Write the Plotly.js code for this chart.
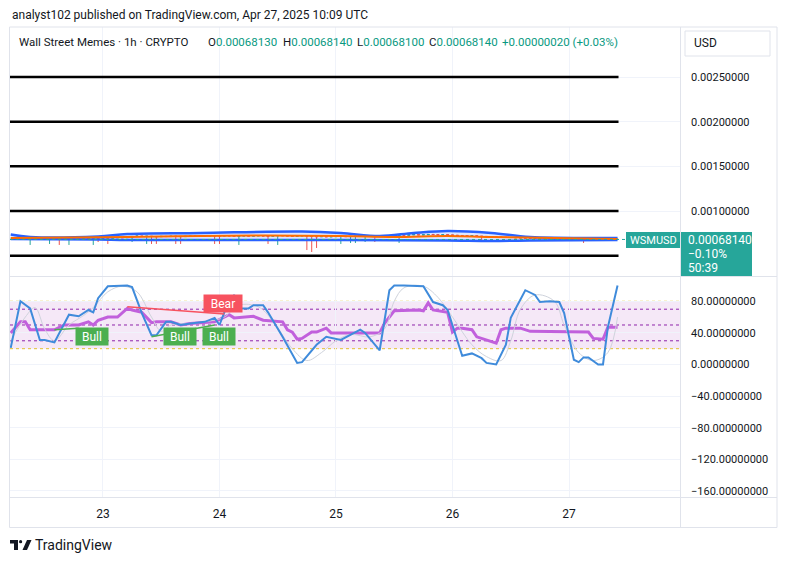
<!DOCTYPE html>
<html><head><meta charset="utf-8">
<script src="https://cdn.plot.ly/plotly-3.0.1.min.js"></script>
<style>html,body{margin:0;padding:0;background:#fff}#chart{width:785px;height:562px}</style>
</head><body><div id="chart"></div>
<script>
// ---------- DATA ----------
// hourly candles, prices in units of 1e-8 USD, first candle at 2025-04-22 06:00 (hour 6)
const firstCandleHour = 6;
const firstOpen = 69500;
const closes = [
  69600,69700,69500,69600,69800,69400,69500,69600,69700,69500,69400,69600,69500,69700,69600,69500,69700,69600,
  69800,69700,70000,70200,70100,70300,71500,72000,71600,71800,71500,71200,71600,71400,71800,71600,71300,71700,71900,71800,72100,72000,72300,72200,
  72000,72400,72100,71800,72000,72300,71900,72100,72400,72000,71800,72200,72500,72300,72000,71700,72100,72300,72000,71500,71200,71400,71100,71300,
  71400,71700,71300,71600,71800,71500,71700,71900,71600,71800,72100,72400,72800,73100,72900,73300,73600,73200,73400,73800,73600,73300,73500,73200,
  72900,72600,72400,72100,72300,71800,71600,71300,71100,70800,70600,70400,70300,70000,69800,69600,69400,69300,69100,69000,68800,68700,68500,68400,
  68300,68200,68100,68000,68100,68000,67900,67800,67900,68130,68140
];
const wickHours = [9,13,15,17,22,23,25,30,33,34,35,39,40,47,48,52,58,60,66,67,68,73,75,76,78,80,85,102,123];
const wickLows  = [62000,63100,62000,62000,62000,65300,63100,65300,63100,63100,63100,63100,63100,63100,63100,62000,63100,62000,56300,54100,58600,63100,64200,64200,65300,65300,64200,65300,64200];

const bandUpperHours = [5,9,23,29,44,65,73,81,88,95,104,112,129,130];
const bandUpper      = [73700,70900,71500,74250,75400,77050,75400,72000,75400,77600,75400,70900,69800,69700];
const bandLowerHours = [5,23,29,65,73,95,104,112,130];
const bandLower      = [68650,68100,67540,67540,67540,67000,66400,67000,67540];
const maHours  = [5,29,55,73,84,95,104,130];
const maValues = [69800,70900,72600,72000,70900,72000,70900,68650];

const levels = [0.0005,0.0010,0.0015,0.0020,0.0025];
const priceTicks = [0.0010,0.0015,0.0020,0.0025];
const lastPrice = 0.0006814;

// oscillator pane (hours since 2025-04-22 00:00)
const kHours  = [5,7,9,11,12,14,17,19,21,22,23,25,29,30,32,34,35,37,38,40,42,45,47,48,49,51,52,54,55,57,58,61,64,65,68,70,73,77,78,81,83,84,86,90,92,94,95,98,100,102,103,105,107,108,111,113,114,116,118,119,121,122,123,124,126,127,128,130];
const kValues = [21,80,71,31,31,28,63,61,69,66,84,99,100,98,65,37,37,54,54,50,52,54,59,50,66,88,71,71,75,75,66,35,2,3,25,35,31,44,40,18,94,100,100,99,79,75,69,11,14,8,2,0,25,59,94,88,79,80,79,65,6,3,9,9,0,0,47,100];
const dHours  = [5,8,10,12,14,17,20,22,25,28,31,34,36,38,42,46,49,52,56,59,63,66,69,72,75,79,82,84,86,90,93,96,100,103,106,108,110,113,117,119,122,125,128,130];
const dValues = [30,60,72,45,30,50,62,72,92,99,92,60,42,50,52,55,60,75,73,55,20,5,15,30,38,35,45,80,97,99,85,60,25,10,5,30,70,88,80,50,15,5,15,60];
const rHours  = [5,7,8,9,14,16,19,21,22,23,25,27,29,30,32,34,35,38,40,42,47,49,50,51,54,55,57,61,62,63,64,65,67,68,70,71,81,82,84,89,90,91,92,93,95,96,97,98,100,101,102,103,105,106,107,110,112,124,125,127,128,130];
const rValues = [40,54,54,44,44,50,50,54,50,56,60,60,71,69,66,53,54,54,50,52,54,60,63,59,60,61,56,54,44,41,32,33,41,41,46,40,40,52,68,69,68,78,69,68,66,41,46,46,44,35,33,31,27,44,46,46,42,41,33,32,47,47];
const bearHours = [29,49], bearValues = [73,64];
const bull1Hours = [14,19], bull1Values = [44,46];
const bull2Hours = [34,47], bull2Values = [35,50];
const labelBear = {h:48.7, v:76.6, text:'Bear'};
const labelsBull = [{h:21.8, v:35.5, text:'Bull'},{h:39.9, v:35.5, text:'Bull'},{h:47.9, v:35.5, text:'Bull'}];
const oscTicks = [80,40,0,-40,-80,-120,-160];
const dayTicks = ['2025-04-23','2025-04-24','2025-04-25','2025-04-26','2025-04-27'];
const dayLabels = ['23','24','25','26','27'];

// ---------- BUILD ----------
const SC = 1e-8;
function hd(h){ const d=new Date(Date.UTC(2025,3,22,0,0,0)+h*3600e3); return d.toISOString().slice(0,19).replace('T',' '); }
const cx=[],co=[],ch=[],cl=[],cc=[];
closes.forEach((c,i)=>{
  const h=firstCandleHour+i; const o=i===0?firstOpen:closes[i-1];
  cx.push(hd(h)); co.push(o*SC); cc.push(c*SC); ch.push(Math.max(o,c)*SC);
  const wi=wickHours.indexOf(h); cl.push((wi>=0?wickLows[wi]:Math.min(o,c))*SC);
});
const xRange=[hd(4.85), hd(143.07)];
const teal='#26a69a', red='#ef5350';
const traces=[
  {type:'scatter',mode:'lines',x:bandLowerHours.map(hd),y:bandLower.map(v=>v*SC),line:{color:'#2962ff',width:2.5,shape:'spline'},xaxis:'x',yaxis:'y',hoverinfo:'skip'},
  {type:'scatter',mode:'lines',x:bandUpperHours.map(hd),y:bandUpper.map(v=>v*SC),line:{color:'#2962ff',width:2.5,shape:'spline'},fill:'tonexty',fillcolor:'rgba(41,98,255,0.15)',xaxis:'x',yaxis:'y',hoverinfo:'skip'},
  {type:'scatter',mode:'lines',x:maHours.map(hd),y:maValues.map(v=>v*SC),line:{color:'#ff6d00',width:2,shape:'spline'},xaxis:'x',yaxis:'y',hoverinfo:'skip'},
  {type:'candlestick',x:cx,open:co,high:ch,low:cl,close:cc,xaxis:'x',yaxis:'y',whiskerwidth:0,
    increasing:{line:{color:teal,width:1},fillcolor:teal},decreasing:{line:{color:red,width:1},fillcolor:red}},
  {type:'scatter',mode:'lines',x:rHours.map(hd),y:rValues,line:{color:'#c160dc',width:3},xaxis:'x',yaxis:'y2',hoverinfo:'skip'},
  {type:'scatter',mode:'lines',x:dHours.map(hd),y:dValues,line:{color:'#cfd3dc',width:1,shape:'spline'},xaxis:'x',yaxis:'y2',hoverinfo:'skip'},
  {type:'scatter',mode:'lines',x:kHours.map(hd),y:kValues,line:{color:'#3f8bdb',width:2},xaxis:'x',yaxis:'y2',hoverinfo:'skip'},
  {type:'scatter',mode:'lines',x:bearHours.map(hd),y:bearValues,line:{color:'#f7525f',width:1.5},xaxis:'x',yaxis:'y2',hoverinfo:'skip'},
  {type:'scatter',mode:'lines',x:bull1Hours.map(hd),y:bull1Values,line:{color:'#4caf50',width:1.5},xaxis:'x',yaxis:'y2',hoverinfo:'skip'},
  {type:'scatter',mode:'lines',x:bull2Hours.map(hd),y:bull2Values,line:{color:'#4caf50',width:1.5},xaxis:'x',yaxis:'y2',hoverinfo:'skip'}
];
const PX=x=>(x-10)/671, PY=y=>(497-y)/470;
const border='#e0e3eb';
const shapes=[];
levels.forEach(l=>shapes.push({type:'line',xref:'x',yref:'y',x0:xRange[0],x1:hd(130.2),y0:l,y1:l,line:{color:'#000',width:2.5},layer:'between'}));
shapes.push({type:'line',xref:'paper',yref:'y',x0:0,x1:1,y0:lastPrice,y1:lastPrice,line:{color:teal,width:1,dash:'dot'}});
shapes.push({type:'rect',xref:'paper',yref:'y2',x0:0,x1:1,y0:20,y1:80,fillcolor:'rgba(186,104,200,0.15)',line:{width:0},layer:'between'});
[[80,'#e0c030'],[20,'#e0c030'],[70,'#8e24aa'],[50,'#8e24aa'],[30,'#8e24aa']].forEach(([v,c])=>shapes.push({type:'line',xref:'paper',yref:'y2',x0:0,x1:1,y0:v,y1:v,line:{color:c,width:1,dash:'dot'},layer:'between'}));
// frame
shapes.push({type:'rect',xref:'paper',yref:'paper',x0:PX(9.5),x1:PX(777),y0:PY(27),y1:PY(527.5),line:{color:border,width:1}});
shapes.push({type:'line',xref:'paper',yref:'paper',x0:PX(9.5),x1:PX(777),y0:PY(276.5),y1:PY(276.5),line:{color:border,width:1}});
shapes.push({type:'line',xref:'paper',yref:'paper',x0:PX(9.5),x1:PX(777),y0:PY(497.5),y1:PY(497.5),line:{color:border,width:1}});
shapes.push({type:'line',xref:'paper',yref:'paper',x0:PX(680.5),x1:PX(680.5),y0:PY(27),y1:PY(527.5),line:{color:border,width:1}});
// USD box
shapes.push({type:'rect',xref:'paper',yref:'paper',x0:PX(685),x1:PX(770),y0:PY(31),y1:PY(56),line:{color:border,width:1},fillcolor:'#fff'});
// price tags
shapes.push({type:'rect',xref:'paper',yref:'paper',x0:PX(626),x1:PX(680),y0:PY(232),y1:PY(248),line:{width:0},fillcolor:teal,layer:'above'});
shapes.push({type:'rect',xref:'paper',yref:'paper',x0:PX(681),x1:PX(752),y0:PY(232),y1:PY(276),line:{width:0},fillcolor:teal,layer:'above'});
// TradingView logo
const lp=(pts)=>'M'+pts.map(p=>PX(p[0])+','+PY(p[1])).join(' L')+' Z';
shapes.push({type:'path',xref:'paper',yref:'paper',path:lp([[10,540],[18,540],[18,550],[14,550],[14,543.5],[10,543.5]]),fillcolor:'#131722',line:{width:0}});
shapes.push({type:'circle',xref:'paper',yref:'paper',x0:PX(19),x1:PX(22.2),y0:PY(540),y1:PY(543.3),fillcolor:'#131722',line:{width:0}});
shapes.push({type:'path',xref:'paper',yref:'paper',path:lp([[27,540],[31.5,540],[27,550],[22.5,550]]),fillcolor:'#131722',line:{width:0}});

const F='Roboto, "Noto Sans", sans-serif';
const ann=[];
const txt=(x,y,t,size,color,anchor)=>ann.push({xref:'paper',yref:'paper',x:PX(x),y:PY(y),text:t,showarrow:false,xanchor:anchor||'left',yanchor:'middle',font:{family:F,size:size,color:color||'#131722'}});
txt(10,15,'analyst102 published on TradingView.com, Apr 27, 2025 10:09 UTC',12);
const G='#089981';
txt(17,42,'Wall Street Memes · 1h · CRYPTO',11.5);
txt(206,42,'O<span style="color:'+G+'">0.00068130</span>',11.5);
txt(281,42,'H<span style="color:'+G+'">0.00068140</span>',11.5);
txt(355,42,'L<span style="color:'+G+'">0.00068100</span>',11.5);
txt(427,42,'C<span style="color:'+G+'">0.00068140</span>',11.5);
txt(500,42,'+0.00000020 (+0.03%)',11.5,G);
txt(692,43.5,'USD',12);
txt(653,240,'WSMUSD',11,'#fff','center');
txt(686,240,'0.00068140',12,'#fff');
txt(686,254,'−0.10%',12,'#fff');
txt(686,268,'50:39',12,'#fff');
txt(33,545,'TradingView',14);
ann.push({xref:'x',yref:'y2',x:hd(labelBear.h),y:labelBear.v,text:labelBear.text,showarrow:false,bgcolor:'#f7525f',width:34,height:13,font:{family:F,size:12,color:'#fff'},borderpad:2});
labelsBull.forEach(l=>ann.push({xref:'x',yref:'y2',x:hd(l.h),y:l.v,text:l.text,showarrow:false,bgcolor:'#4caf50',width:28,height:13,font:{family:F,size:12,color:'#fff'},borderpad:2}));

const layout={
  width:785,height:562,margin:{l:10,r:104,t:27,b:65},paper_bgcolor:'#fff',plot_bgcolor:'#fff',showlegend:false,
  font:{family:F,size:11,color:'#131722'},
  xaxis:{type:'date',range:xRange,anchor:'y2',domain:[0,1],tickvals:dayTicks,ticktext:dayLabels,tickfont:{size:12},
    showgrid:true,gridcolor:'#f0f3fa',zeroline:false,showline:false,ticks:'',ticklabelstandoff:8,rangeslider:{visible:false},fixedrange:true},
  yaxis:{domain:[PY(276),1],range:[0.0002724,0.0030597],side:'right',anchor:'x',tickvals:priceTicks,tickformat:'.8f',
    showgrid:true,gridcolor:'#f0f3fa',zeroline:false,showline:false,ticks:'',ticklabelstandoff:9},
  yaxis2:{domain:[0,PY(276)],range:[-167.7,112],side:'right',anchor:'x',tickvals:oscTicks,tickformat:'.8f',
    showgrid:true,gridcolor:'#f0f3fa',zeroline:false,showline:false,ticks:'',ticklabelstandoff:9},
  shapes:shapes,annotations:ann
};
Plotly.newPlot('chart',traces,layout,{staticPlot:true,displayModeBar:false});
</script></body></html>
